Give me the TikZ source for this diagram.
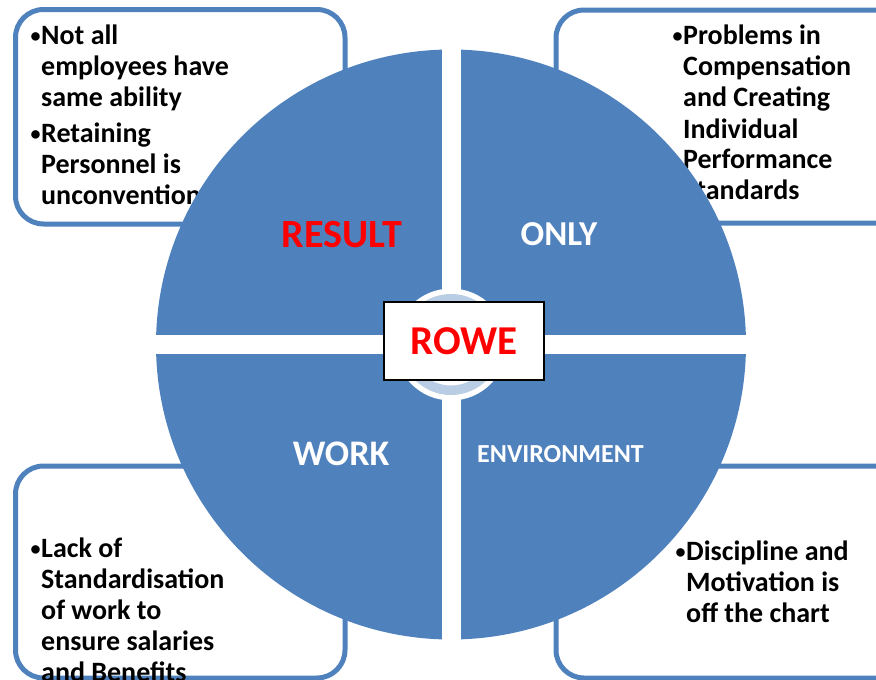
\documentclass[tikz,border=0pt]{standalone}
\usepackage{fontspec}
\setmainfont{Carlito}
\usepackage{array}
\definecolor{obl}{HTML}{4F81BD}
\definecolor{lbl}{HTML}{B9CDE5}
\definecolor{ored}{HTML}{FF0000}
\tikzset{
  sidebox/.style={draw=obl, line width=5pt, fill=white, rounded corners=28pt},
  bultext/.style={anchor=base west, inner sep=0pt, font=\bfseries\fontsize{28}{31}\selectfont},
  quadlbl/.style={inner sep=0pt, font=\bfseries, text=white},
}
\newcommand{\bl}{\makebox[11pt][l]{\hspace{0.5pt}\raisebox{2pt}{\fontsize{20}{20}\selectfont •}}}
\begin{document}
\begin{tikzpicture}[x=1pt,y=-1pt]
\useasboundingbox (0,0) rectangle (876,680);
\clip (0,0) rectangle (876,680);
% side boxes
\draw[sidebox] (15.5,9.5) rectangle (345,224);
\draw[sidebox] (556,10) rectangle (910,223);
\draw[sidebox] (15.5,466) rectangle (345,678);
\draw[sidebox] (556,466) rectangle (910,678);
% texts
\node[bultext] (tl) at (30,45) {\begin{tabular}[t]{@{}l@{}l@{}}
\bl&Not all\\ &employees have\\ &same ability\\[5pt]
\bl&Retaining\\ &Personnel is\\ &unconventional\end{tabular}};
\node[bultext] (tr) at (672,45) {\begin{tabular}[t]{@{}l@{}l@{}}
\bl&Problems in\\ &Compensation\\ &and Creating\\ &Individual\\ &Performance\\ &Standards\end{tabular}};
\node[bultext] (bl) at (30,557) {\begin{tabular}[t]{@{}l@{}l@{}}
\bl&Lack of\\ &Standardisation\\ &of work to\\ &ensure salaries\\ &and Benefits\end{tabular}};
\node[bultext] (br) at (675,560) {\begin{tabular}[t]{@{}l@{}l@{}}
\bl&Discipline and\\ &Motivation is\\ &off the chart\end{tabular}};
% circle
\coordinate (c) at (451,344.5);
\fill[obl] (c) circle[radius=295];
\fill[white] (441.5,40) rectangle (460.5,650);
\fill[white] (150,335) rectangle (752,354);
% central ring
\fill[white] (c) circle[radius=56];
\fill[lbl, even odd rule] (c) circle[radius=50.5] (c) circle[radius=41];
% ROWE box
\node[draw=black, line width=2.5pt, fill=white, minimum width=160pt, minimum height=78pt, inner sep=0pt,
  font=\bfseries\fontsize{41}{44}\selectfont, text=ored] (rowe) at (464,341) {ROWE};
% quadrant labels
\node[quadlbl, text=ored, font=\bfseries\fontsize{40}{44}\selectfont] (result) at (342,234.5) {RESULT};
\node[quadlbl, font=\bfseries\fontsize{35}{40}\selectfont] (only) at (559,234.5) {ONLY};
\node[quadlbl, font=\bfseries\fontsize{36}{40}\selectfont] (work) at (341,453.5) {WORK};
\node[quadlbl, font=\bfseries\fontsize{26}{30}\selectfont] (env) at (560.5,454) {ENVIRONMENT};
\end{tikzpicture}
\end{document}
